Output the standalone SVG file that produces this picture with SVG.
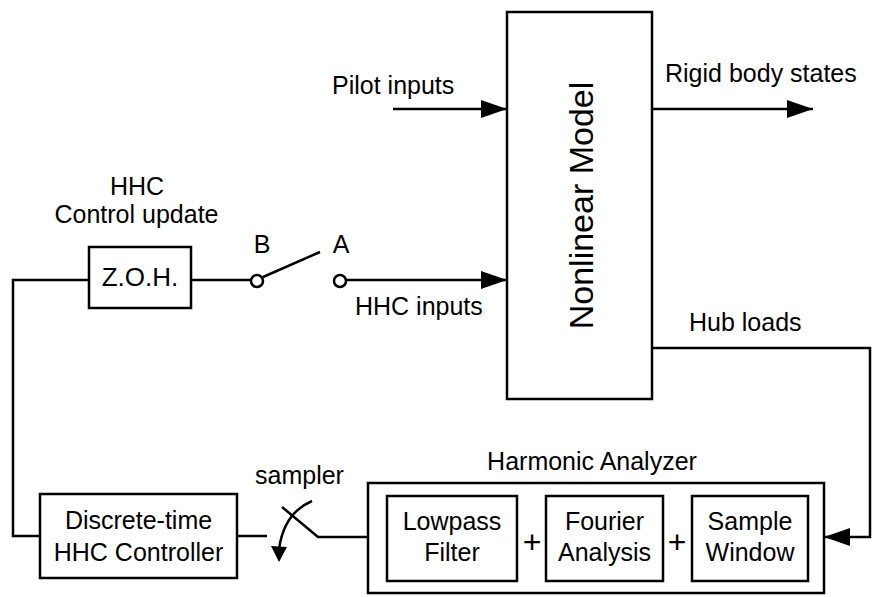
<svg xmlns="http://www.w3.org/2000/svg" width="874" height="597" viewBox="0 0 874 597">
<style>
.box{fill:#fff;stroke:#000;stroke-width:2.5}
.ln{fill:none;stroke:#000;stroke-width:2.5}
.t{font-family:"Liberation Sans",Arial,sans-serif;font-size:25px;fill:#000}
.m{text-anchor:middle}
.term{fill:#fff;stroke:#000;stroke-width:2.5}
</style>
<defs>
<marker id="ah" markerUnits="userSpaceOnUse" markerWidth="26" markerHeight="20" refX="26" refY="9" orient="auto">
<path d="M0,0 L26,9 L0,18 Z" fill="#000"/>
</marker>
</defs>
<rect width="874" height="597" fill="#fff"/>
<g id="connectors">
<line class="ln" x1="393" y1="109" x2="507" y2="109" marker-end="url(#ah)"/>
<line class="ln" x1="652" y1="109" x2="813" y2="109" marker-end="url(#ah)"/>
<line class="ln" x1="346" y1="280" x2="507" y2="280" marker-end="url(#ah)"/>
<polyline class="ln" points="652,348 870,348 870,537 824,537" marker-end="url(#ah)"/>
<line class="ln" x1="191" y1="280" x2="251" y2="280"/>
<line class="ln" x1="263" y1="277" x2="320" y2="252"/>
<polyline class="ln" points="89,280 13,280 13,536 40,536"/>
<line class="ln" x1="237" y1="536" x2="267" y2="536"/>
<polyline class="ln" points="282,507 318,537 368,537"/>
<path class="ln" d="M312,501 Q284,513 279,549"/>
<path d="M271,546 L287,547 L279,562 Z" fill="#000"/>
<circle class="term" cx="257" cy="281" r="6"/>
<circle class="term" cx="340" cy="281" r="6"/>
</g>
<g id="nonlinear-model">
<rect class="box" x="507" y="12" width="145" height="387"/>
<text class="t m" style="font-size:34px" transform="translate(593,205.5) rotate(-90)">Nonlinear Model</text>
</g>
<g id="zoh">
<rect class="box" x="89" y="247" width="102" height="61"/>
<text class="t m" style="font-size:26px" x="140" y="286">Z.O.H.</text>
</g>
<g id="controller">
<rect class="box" x="40" y="494" width="197" height="84"/>
<text class="t m" x="138.5" y="529">Discrete-time</text>
<text class="t m" x="138.5" y="561">HHC Controller</text>
</g>
<g id="harmonic-analyzer">
<rect class="box" x="368" y="483" width="456" height="110"/>
<text class="t m" x="592" y="470">Harmonic Analyzer</text>
</g>
<g id="lowpass">
<rect class="box" x="387" y="496" width="130" height="85"/>
<text class="t m" x="452" y="530">Lowpass</text>
<text class="t m" x="452" y="561">Filter</text>
</g>
<g id="fourier">
<rect class="box" x="546" y="496" width="117" height="85"/>
<text class="t m" x="604.5" y="530">Fourier</text>
<text class="t m" x="604.5" y="561">Analysis</text>
</g>
<g id="window">
<rect class="box" x="692" y="496" width="116" height="85"/>
<text class="t m" x="750" y="530">Sample</text>
<text class="t m" x="750" y="561">Window</text>
</g>
<g id="labels">
<text class="t m" style="font-size:32px" x="532" y="553">+</text>
<text class="t m" style="font-size:32px" x="677" y="553">+</text>
<text class="t m" x="137" y="195">HHC</text>
<text class="t m" x="136.5" y="223">Control update</text>
<text class="t m" x="262" y="253">B</text>
<text class="t m" x="341" y="253">A</text>
<text class="t" x="355" y="315">HHC inputs</text>
<text class="t" x="332" y="94">Pilot inputs</text>
<text class="t" x="665" y="82">Rigid body states</text>
<text class="t" x="689" y="331">Hub loads</text>
<text class="t" x="255" y="484">sampler</text>
</g>
</svg>
